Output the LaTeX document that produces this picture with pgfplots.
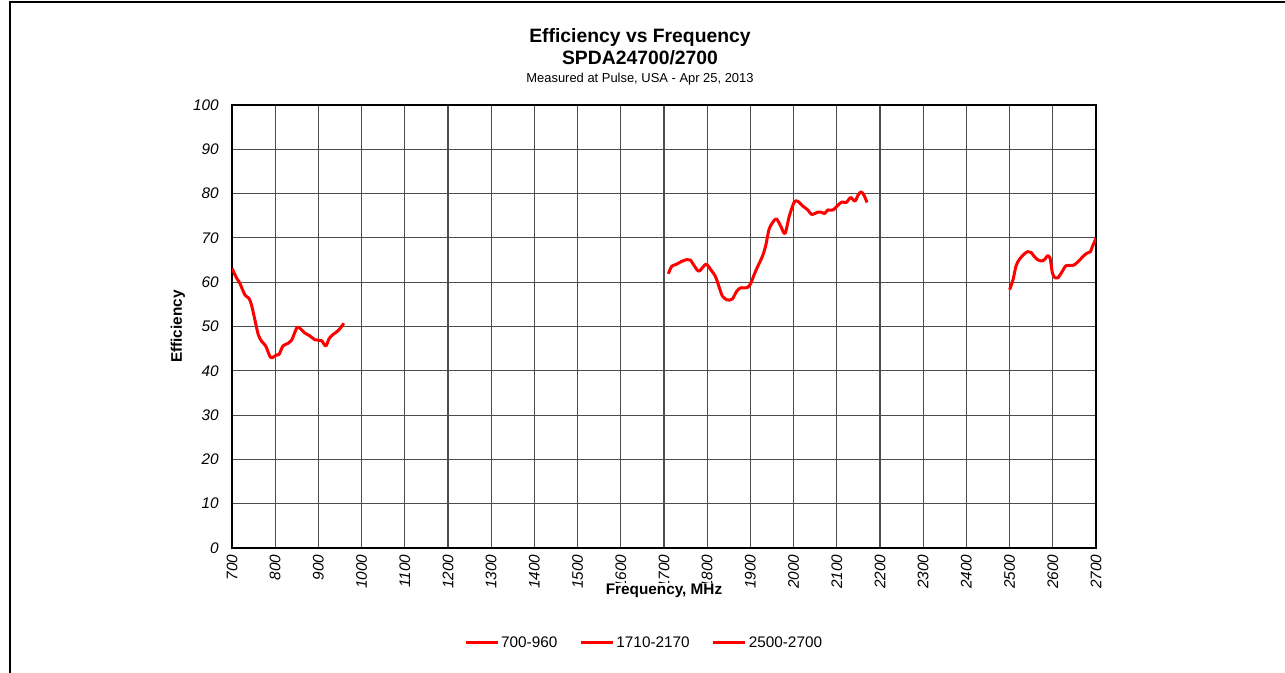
\documentclass[border=0pt]{standalone}
\usepackage{pgfplots}
\pgfplotsset{compat=1.18}
\usepackage{fontspec}
\setmainfont{Liberation Sans}
\begin{document}
\begin{tikzpicture}
\useasboundingbox (0,0) rectangle (963.75pt,504.75pt);
\draw[line width=1.5pt] (7.5pt,0) -- (7.5pt,503.25pt) -- (963.75pt,503.25pt);
\node[font=\fontsize{14.5}{17}\selectfont\bfseries] at (480pt,476.25pt) {Efficiency vs Frequency};
\node[font=\fontsize{14.5}{17}\selectfont\bfseries] at (480pt,461.25pt) {SPDA24700/2700};
\node[font=\fontsize{9.7}{11}\selectfont] at (480pt,445.5pt) {Measured at Pulse, USA - Apr 25, 2013};
\begin{axis}[
  at={(174pt,93.75pt)}, anchor=south west,
  scale only axis, width=648pt, height=332.25pt,
  xmin=700, xmax=2700, ymin=0, ymax=100,
  xtick={700,800,...,2700}, ytick={0,10,...,100},
  /pgf/number format/assume math mode=true,
  /pgf/number format/set thousands separator={},
  ticklabel style={font=\fontsize{11.5}{13}\selectfont\itshape},
  xticklabel style={rotate=90, anchor=east, yshift=0pt, xshift=-1.5pt},
  yticklabel style={xshift=-6.5pt},
  major tick length=0pt,
  grid=major,
  major grid style={black!70, line width=0.8pt},
  axis line style={black, line width=1pt},
  xlabel={Frequency, MHz},
  ylabel={Efficiency},
  xlabel style={at={(axis description cs:0.5,-0.097)}, anchor=center, font=\fontsize{11.5}{13}\selectfont\bfseries, fill=white, inner sep=0.5pt},
  ylabel style={at={(axis description cs:-0.0625,0.5)}, anchor=center, rotate=0, font=\fontsize{11.5}{13}\selectfont\bfseries},
  legend columns=3,
  legend style={at={(axis description cs:0.477,-0.2144)}, anchor=center, draw=none,
    font=\fontsize{11.5}{13}\selectfont,
    nodes={inner sep=1.5pt},
    /tikz/every even column/.append style={column sep=15pt}},
  legend image code/.code={\draw[#1, line width=2.25pt] (0pt,0pt) -- (24pt,0pt);},
]
\addplot[red, line width=2.25pt, smooth, line join=round] coordinates {
(700,63.1)(711,60.9)(718,59.8)(730,57.1)(739,56.4)(745,54.9)(753,51.5)(761,48.1)(769,46.6)(778,45.6)(788,43.2)(794,43.0)(803,43.6)(809,43.7)(818,45.6)(830,46.2)(838,46.9)(850,49.7)(857,49.6)(869,48.5)(880,47.9)(892,47.0)(907,46.8)(917,45.6)(925,47.3)(934,48.2)(946,49.1)(959,50.7)
};
\addlegendentry{700-960}
\addplot[red, line width=2.25pt, smooth, line join=round] coordinates {
(1710,61.9)(1718,63.6)(1728,64.0)(1741,64.7)(1753,65.1)(1761,65.0)(1768,64.0)(1780,62.5)(1790,63.4)(1798,64.1)(1807,63.0)(1819,61.3)(1827,59.1)(1835,56.9)(1846,56.0)(1858,56.2)(1868,57.9)(1877,58.7)(1893,58.8)(1901,59.8)(1912,62.5)(1928,65.9)(1936,68.5)(1943,71.9)(1951,73.4)(1960,74.3)(1970,72.7)(1980,71.0)(1990,74.9)(2001,78.0)(2009,78.3)(2021,77.2)(2033,76.3)(2042,75.3)(2056,75.8)(2064,75.8)(2072,75.5)(2079,76.3)(2091,76.3)(2103,77.4)(2112,78.1)(2122,78.0)(2132,79.1)(2142,78.3)(2149,79.6)(2156,80.4)(2163,79.6)(2170,78.0)
};
\addlegendentry{1710-2170}
\addplot[red, line width=2.25pt, smooth, line join=round] coordinates {
(2500,58.3)(2508,60.6)(2515,63.7)(2523,65.2)(2533,66.3)(2542,66.9)(2550,66.7)(2557,65.8)(2566,65.0)(2576,64.8)(2582,65.2)(2588,66.0)(2594,65.3)(2599,62.1)(2605,61.0)(2612,61.0)(2621,62.3)(2630,63.7)(2637,63.8)(2647,63.8)(2656,64.4)(2668,65.6)(2678,66.5)(2687,66.9)(2691,67.9)(2696,69.0)(2700,70.0)
};
\addlegendentry{2500-2700}
\end{axis}
\end{tikzpicture}
\end{document}
